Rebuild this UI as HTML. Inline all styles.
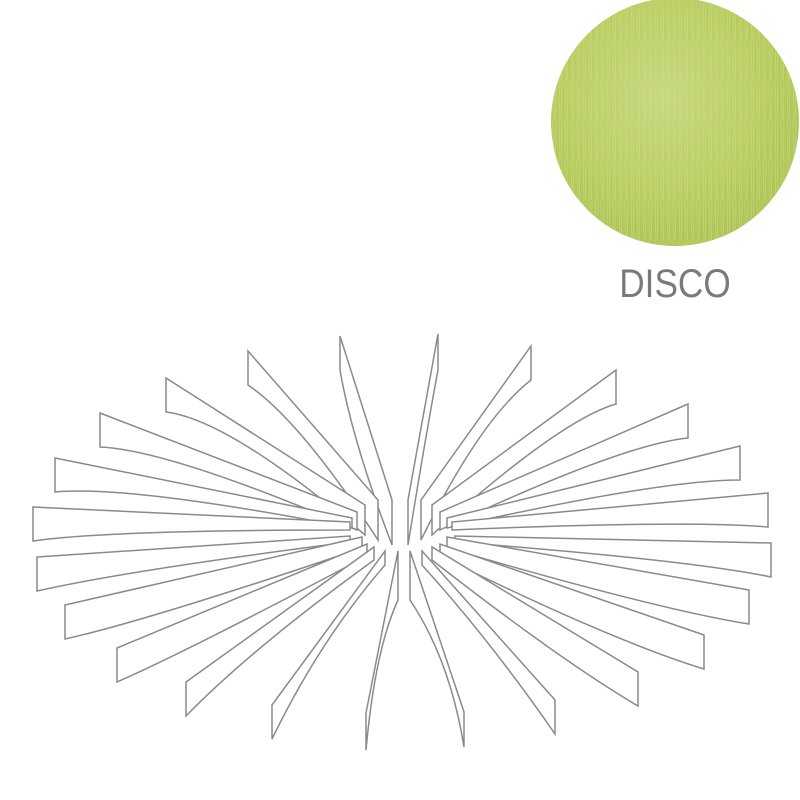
<!DOCTYPE html>
<html><head><meta charset="utf-8"><style>
html,body{margin:0;padding:0;background:#fff;width:800px;height:800px;overflow:hidden}
.t{position:absolute;left:600px;top:262px;width:150px;text-align:center;font-family:"Liberation Sans",sans-serif;font-size:40px;color:#7a7a7a;transform:scaleX(0.88);transform-origin:75px 0}
</style></head><body>
<svg width="800" height="800" style="position:absolute;left:0;top:0">
<defs>
<radialGradient id="g" cx="45%" cy="40%" r="65%">
<stop offset="0" stop-color="#c6d87e"/><stop offset="0.6" stop-color="#b9ce62"/><stop offset="1" stop-color="#adc354"/>
</radialGradient>
<pattern id="fib" width="6" height="40" patternUnits="userSpaceOnUse">
<path d="M1 0 L2 40 M4 0 L3.5 40" stroke="#dbe6a3" stroke-width="0.6" opacity="0.5"/>
</pattern>
</defs>
<circle cx="675" cy="122" r="124" fill="url(#g)"/>
<circle cx="675" cy="122" r="124" fill="url(#fib)"/>
<g fill="#fff" stroke="#8a8a8a" stroke-width="1.5">
<path d="M340 336 L392 500 L392 545 Q352 440 340 370 Z"/>
<path d="M248 351 L378 500 L378 540 Q300 420 248 385 Z"/>
<path d="M166 378 L365 505 L365 535 Q230 420 166 412 Z"/>
<path d="M100 413 L357 512 L357 530 Q170 450 100 447 Z"/>
<path d="M55 458 L352 518 L352 528 Q130 485 55 492 Z"/>
<path d="M33 507 L350 522 L350 530 Q110 530 33 541 Z"/>
<path d="M37 557 L350 536 L350 542 Q130 570 37 591 Z"/>
<path d="M65 605 L362 537 L362 548 Q150 620 65 639 Z"/>
<path d="M117 648 L367 544 L367 556 Q190 650 117 682 Z"/>
<path d="M186 682 L374 547 L374 560 Q250 650 186 716 Z"/>
<path d="M272 705 L385 551 L385 565 Q320 640 272 739 Z"/>
<path d="M366 713 L398 551 L398 600 Q375 650 366 750 Z"/>
<path d="M438 334 L408 500 L408 545 Q425 440 438 370 Z"/>
<path d="M531 346 L421 500 L421 540 Q480 420 531 380 Z"/>
<path d="M616 370 L432 505 L432 535 Q560 420 616 404 Z"/>
<path d="M688 404 L440 512 L440 530 Q620 445 688 438 Z"/>
<path d="M740 446 L447 518 L447 528 Q660 480 740 480 Z"/>
<path d="M768 493 L452 522 L452 530 Q690 520 768 527 Z"/>
<path d="M771 543 L455 536 L455 542 Q690 560 771 577 Z"/>
<path d="M749 590 L447 537 L447 548 Q660 610 749 624 Z"/>
<path d="M704 635 L440 544 L440 556 Q610 640 704 669 Z"/>
<path d="M638 672 L432 547 L432 560 Q560 660 638 706 Z"/>
<path d="M555 700 L422 551 L422 565 Q490 640 555 734 Z"/>
<path d="M464 712 L410 551 L410 600 Q450 660 464 747 Z"/>
</g>
</svg>
<div class="t">DISCO</div>
</body></html>
